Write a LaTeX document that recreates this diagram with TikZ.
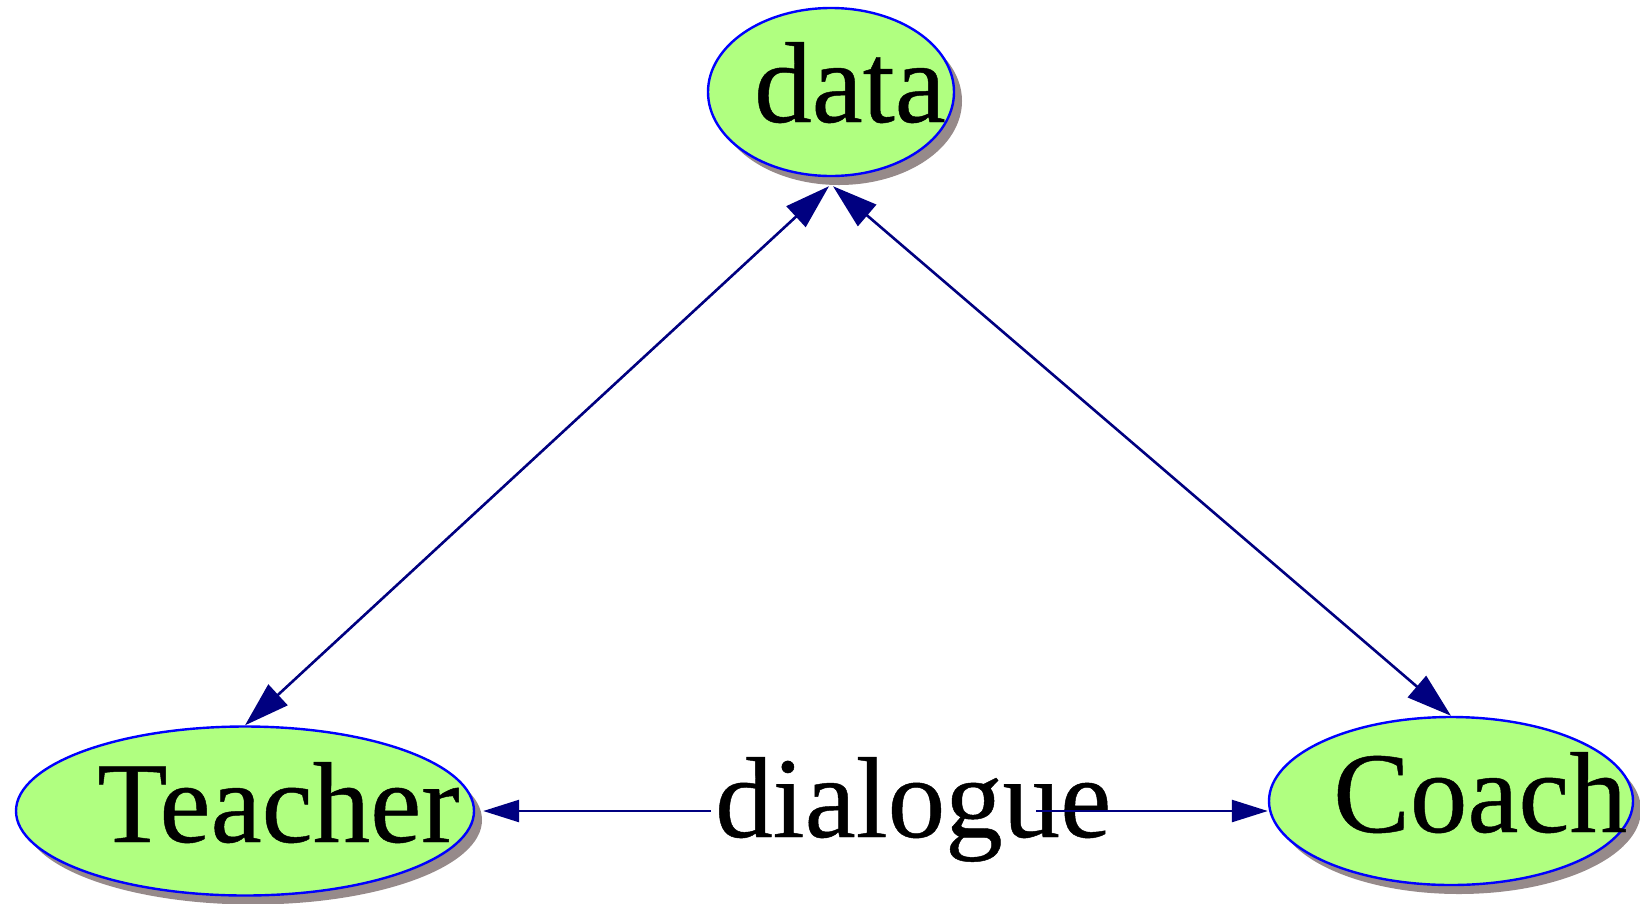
\documentclass[tikz,border=0pt]{standalone}
\usepackage{fontspec}
\setmainfont{Liberation Serif}
\newfontfamily\labelfont[FakeBold=0.4]{Liberation Serif}
\usetikzlibrary{arrows.meta,shapes.geometric,shadows}
\definecolor{nodefill}{RGB}{176,255,128}
\definecolor{nodeline}{RGB}{0,0,255}
\definecolor{edgecol}{RGB}{0,0,128}
\definecolor{shadowcol}{RGB}{150,138,138}
\tikzset{
  blob/.style={ellipse, draw=nodeline, fill=nodefill, line width=2.4pt, inner sep=0pt,
    drop shadow={shadow xshift=8pt, shadow yshift=-9pt, fill=shadowcol, opacity=1}},
  word/.style={anchor=base west, inner sep=0pt, font=\labelfont\fontsize{115}{130}\selectfont},
  link/.style={draw=edgecol, line width=2.6pt},
  bigtips/.style={{Triangle[length=45pt,width=28pt]}-{Triangle[length=45pt,width=28pt]}},
  smalltip/.style={-{Triangle[length=36pt,width=22pt]}}
}
\begin{document}
\begin{tikzpicture}[x=1pt,y=-1pt]
  \useasboundingbox (0,0) rectangle (1640,903);

  % nodes
  \node[blob, minimum width=246pt, minimum height=168pt] (data) at (831,92) {};
  \node[blob, minimum width=458pt, minimum height=169pt] (teacher) at (245,811) {};
  \node[blob, minimum width=364pt, minimum height=168pt] (coach) at (1451,801) {};

  \node[word] (tdata) at (754,122) {data};
  \node[word] (tteacher) at (97,842) {Teacher};
  \node[word] (tcoach) at (1333,832) {Coach};
  \node[word] (tdialogue) at (715,837) {dialogue};

  % ends of the labelled edge on either side of its label
  \coordinate (dlgL) at (711,811);
  \coordinate (dlgR) at (1036,811);

  % edges from data
  \draw[link, bigtips] ([xshift=-2pt,yshift=-9pt]data.south) -- (teacher.north);
  \draw[link, bigtips] ([xshift=2pt,yshift=-9pt]data.south) -- (coach.north);

  % dialogue edge
  \draw[link, smalltip] (dlgL) -- ([xshift=8pt]teacher.east);
  \draw[link, smalltip] (dlgR) -- (teacher.east -| coach.west);
\end{tikzpicture}
\end{document}
